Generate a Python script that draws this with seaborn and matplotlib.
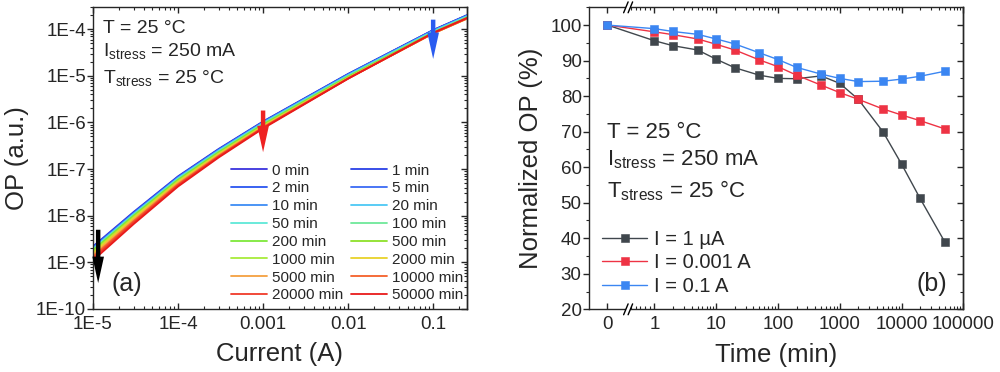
import numpy as np
import pandas as pd
import matplotlib
matplotlib.use("Agg")
import matplotlib.pyplot as plt
import seaborn as sns
from matplotlib.ticker import FixedLocator, FixedFormatter, NullFormatter, MultipleLocator
from matplotlib.patches import Rectangle

# ---- panel (a): OP vs current after each stress time ----
currents = [1e-5, 3e-5, 1e-4, 3e-4, 1e-3, 1e-2, 1e-1, 2.5e-1]
stress_times = [0, 1, 2, 5, 10, 20, 50, 100, 200, 500, 1000, 2000, 5000, 10000, 20000, 50000]
op_curves = [
    [2.20e-9, 1.20e-8, 7.00e-8, 2.70e-7, 1.05e-6, 1.10e-5, 9.60e-5, 2.00e-4],  # 0 min
    [2.11e-9, 1.16e-8, 6.79e-8, 2.63e-7, 1.03e-6, 1.08e-5, 9.50e-5, 1.98e-4],  # 1 min
    [2.09e-9, 1.15e-8, 6.73e-8, 2.61e-7, 1.02e-6, 1.08e-5, 9.43e-5, 1.96e-4],  # 2 min
    [2.05e-9, 1.12e-8, 6.62e-8, 2.57e-7, 1.01e-6, 1.06e-5, 9.35e-5, 1.95e-4],  # 5 min
    [2.00e-9, 1.10e-8, 6.50e-8, 2.53e-7, 9.93e-7, 1.05e-5, 9.23e-5, 1.92e-4],  # 10 min
    [1.96e-9, 1.08e-8, 6.37e-8, 2.48e-7, 9.77e-7, 1.03e-5, 9.09e-5, 1.89e-4],  # 20 min
    [1.89e-9, 1.04e-8, 6.17e-8, 2.41e-7, 9.47e-7, 1.00e-5, 8.85e-5, 1.84e-4],  # 50 min
    [1.85e-9, 1.02e-8, 6.03e-8, 2.35e-7, 9.27e-7, 9.82e-6, 8.67e-5, 1.81e-4],  # 100 min
    [1.80e-9, 9.95e-9, 5.88e-8, 2.29e-7, 9.02e-7, 9.57e-6, 8.46e-5, 1.76e-4],  # 200 min
    [1.74e-9, 9.60e-9, 5.68e-8, 2.21e-7, 8.73e-7, 9.32e-6, 8.28e-5, 1.72e-4],  # 500 min
    [1.67e-9, 9.26e-9, 5.50e-8, 2.15e-7, 8.51e-7, 9.13e-6, 8.16e-5, 1.70e-4],  # 1000 min
    [1.58e-9, 8.84e-9, 5.29e-8, 2.09e-7, 8.31e-7, 8.98e-6, 8.07e-5, 1.68e-4],  # 2000 min
    [1.43e-9, 8.12e-9, 4.95e-8, 1.98e-7, 8.02e-7, 8.83e-6, 8.08e-5, 1.68e-4],  # 5000 min
    [1.32e-9, 7.62e-9, 4.72e-8, 1.91e-7, 7.84e-7, 8.78e-6, 8.14e-5, 1.70e-4],  # 10000 min
    [1.21e-9, 7.12e-9, 4.49e-8, 1.85e-7, 7.68e-7, 8.73e-6, 8.22e-5, 1.71e-4],  # 20000 min
    [1.10e-9, 6.60e-9, 4.23e-8, 1.77e-7, 7.43e-7, 8.68e-6, 8.35e-5, 1.74e-4],  # 50000 min
]
curve_colors = ["#3a33dd", "#2a40e6", "#2a55f0", "#3a6af5", "#3d8cf5", "#4cc8f5",
                "#5ee8d8", "#6ee89a", "#7ee83a", "#8de02a", "#a8ec3a", "#e8d22a",
                "#f5a040", "#f5602a", "#f03a2a", "#e81a1a"]

# ---- panel (b): normalized OP vs stress time ----
time_min = [0, 1, 2, 5, 10, 20, 50, 100, 200, 500, 1000, 2000, 5000, 10000, 20000, 50000]
norm_1uA = [100, 95.6, 94.2, 93.0, 90.4, 88.0, 85.9, 85.0, 84.9, 85.7, 83.6, 79.1, 70.0, 60.9, 51.2, 39.0]
norm_1mA = [100, 98.1, 97.3, 96.1, 94.6, 93.0, 90.2, 88.3, 85.9, 83.1, 81.0, 79.1, 76.4, 74.7, 73.1, 70.8]
norm_100mA = [100, 99.0, 98.2, 97.4, 96.1, 94.7, 92.2, 90.3, 88.1, 86.2, 85.0, 84.1, 84.2, 84.8, 85.6, 87.0]
series_labels = ["I = 1 µA", "I = 0.001 A", "I = 0.1 A"]
series_colors = ["#40474d", "#ee3344", "#3b86f2"]

sns.set_style("ticks")
plt.rcParams["font.family"] = ["Liberation Sans", "DejaVu Sans"]
plt.rcParams["mathtext.fontset"] = "custom"
plt.rcParams["mathtext.rm"] = "Liberation Sans"
plt.rcParams["mathtext.it"] = "Liberation Sans:italic"
plt.rcParams["axes.linewidth"] = 1.0

TICK_FS = 13.5
LABEL_FS = 18.5

fig = plt.figure(figsize=(10, 3.72), dpi=100)
ax_a = fig.add_axes([0.093, 0.1694, 0.374, 0.812])
ax_b = fig.add_axes([0.5893, 0.1685, 0.374, 0.8118])

# ================= panel (a) =================
time_labels = [f"{t} min" for t in stress_times]
rows = []
for lab, vals in zip(time_labels, op_curves):
    for c, v in zip(currents, vals):
        rows.append({"Current": c, "OP": v, "Time": lab})
df_a = pd.DataFrame(rows)

sns.lineplot(data=df_a, x="Current", y="OP", hue="Time", hue_order=time_labels,
             palette=curve_colors, linewidth=1.3, errorbar=None, legend=False, ax=ax_a)
ax_a.set_xscale("log")
ax_a.set_yscale("log")
ax_a.set_xlim(1e-5, 0.25)
ax_a.set_ylim(1e-10, 3e-4)

ax_a.xaxis.set_major_locator(FixedLocator([1e-5, 1e-4, 1e-3, 1e-2, 1e-1]))
ax_a.xaxis.set_major_formatter(FixedFormatter(["1E-5", "1E-4", "0.001", "0.01", "0.1"]))
ax_a.xaxis.set_minor_formatter(NullFormatter())
ax_a.yaxis.set_major_locator(FixedLocator([1e-10, 1e-9, 1e-8, 1e-7, 1e-6, 1e-5, 1e-4]))
ax_a.yaxis.set_major_formatter(FixedFormatter(["1E-10", "1E-9", "1E-8", "1E-7", "1E-6", "1E-5", "1E-4"]))
ax_a.yaxis.set_minor_formatter(NullFormatter())
ax_a.tick_params(axis="x", which="both", direction="in", top=True, labelsize=TICK_FS, pad=5)
ax_a.tick_params(axis="y", which="both", direction="out", right=False, labelsize=TICK_FS, pad=0.5)
ax_a.tick_params(which="major", length=4.5, width=1)
ax_a.tick_params(which="minor", length=2.5, width=0.8)
sec_a = ax_a.secondary_yaxis("right")
sec_a.tick_params(which="both", direction="in", labelright=False)
sec_a.tick_params(which="major", length=4.5, width=1)
sec_a.tick_params(which="minor", length=2.5, width=0.8)
sec_a.yaxis.set_minor_formatter(NullFormatter())

ax_a.set_xlabel("Current (A)", fontsize=LABEL_FS)
ax_a.set_ylabel("OP (a.u.)", fontsize=LABEL_FS)
ax_a.xaxis.set_label_coords(0.5, -0.11)
ax_a.yaxis.set_label_coords(-0.17, 0.5)

handles = ax_a.lines[:len(time_labels)]
order = list(range(0, 16, 2)) + list(range(1, 16, 2))
ax_a.legend([handles[i] for i in order], [time_labels[i] for i in order],
            ncol=2, loc="lower right", bbox_to_anchor=(0.99, 0.022), frameon=False,
            fontsize=11, borderpad=0, borderaxespad=0, handlelength=2.4,
            handletextpad=0.3, columnspacing=0.5, labelspacing=0.25)

ax_a.text(0.027, 0.913, "T = 25 °C", transform=ax_a.transAxes, fontsize=14, va="baseline")
ax_a.text(0.027, 0.838, r"I$_{\mathrm{stress}}$ = 250 mA", transform=ax_a.transAxes, fontsize=14, va="baseline")
ax_a.text(0.027, 0.747, r"T$_{\mathrm{stress}}$ = 25 °C", transform=ax_a.transAxes, fontsize=14, va="baseline")
ax_a.text(0.091, 0.083, "(a)", transform=ax_a.transAxes, fontsize=18, ha="center", va="center")

arrow_style = "simple,head_length=0.95,head_width=0.42,tail_width=0.16"
for (xa, y_from, y_to, col) in [(1.15e-5, 5.0e-9, 3.6e-10, "black"),
                                (1e-3, 1.8e-6, 2.3e-7, "#ee2222"),
                                (0.1, 1.6e-4, 2.3e-5, "#2a5cf0")]:
    ax_a.annotate("", xy=(xa, y_to), xytext=(xa, y_from),
                  arrowprops=dict(arrowstyle=arrow_style, color=col, mutation_scale=20,
                                  lw=0, shrinkA=0, shrinkB=0))

# ================= panel (b) =================
df_b = pd.DataFrame({
    "Time": time_min * 3,
    "OP": norm_1uA + norm_1mA + norm_100mA,
    "Series": [series_labels[0]] * len(time_min) + [series_labels[1]] * len(time_min)
              + [series_labels[2]] * len(time_min),
})
sns.lineplot(data=df_b, x="Time", y="OP", hue="Series", hue_order=series_labels,
             palette=series_colors, marker="s", markersize=5.5, markeredgewidth=0.4,
             linewidth=1.0, errorbar=None, legend=False, ax=ax_b)
for ln, col in zip(ax_b.lines, series_colors):
    ln.set_markeredgecolor(col)

# broken axis: 0 then log from 1 (symlog gives linear 0..1 region)
ax_b.set_xscale("symlog", linthresh=1, linscale=0.683)
ax_b.set_xlim(-0.388, 1e5)
ax_b.set_ylim(20, 105)
ax_b.xaxis.set_major_locator(FixedLocator([0, 1, 10, 100, 1000, 10000, 100000]))
ax_b.xaxis.set_major_formatter(FixedFormatter(["0", "1", "10", "100", "1000", "10000", "100000"]))
minor_x = [0.5, 0.6, 0.7, 0.8, 0.9] + [k * 10 ** d for d in range(0, 5) for k in range(2, 10)]
ax_b.xaxis.set_minor_locator(FixedLocator(minor_x))
ax_b.xaxis.set_minor_formatter(NullFormatter())
ax_b.yaxis.set_major_locator(MultipleLocator(10))
ax_b.yaxis.set_minor_locator(MultipleLocator(5))
ax_b.tick_params(axis="x", which="both", direction="in", top=True, labelsize=TICK_FS, pad=5)
ax_b.tick_params(axis="y", which="both", direction="out", right=False, labelsize=TICK_FS, pad=1)
ax_b.tick_params(which="major", length=4.5, width=1)
ax_b.tick_params(which="minor", length=2.5, width=0.8)
sec_b = ax_b.secondary_yaxis("right")
sec_b.yaxis.set_major_locator(MultipleLocator(10))
sec_b.yaxis.set_minor_locator(MultipleLocator(5))
sec_b.tick_params(which="both", direction="in", labelright=False)
sec_b.tick_params(which="major", length=4.5, width=1)
sec_b.tick_params(which="minor", length=2.5, width=0.8)

ax_b.set_xlabel("Time (min)", fontsize=LABEL_FS)
ax_b.set_ylabel("Normalized OP (%)", fontsize=LABEL_FS)
ax_b.xaxis.set_label_coords(0.5, -0.11)
ax_b.yaxis.set_label_coords(-0.125, 0.5)

ax_b.legend(ax_b.lines[:3], series_labels, loc="lower left", bbox_to_anchor=(0.035, 0.045),
            frameon=False, fontsize=14.5, borderpad=0, borderaxespad=0, handlelength=2.2,
            handletextpad=0.35, labelspacing=0.22)

ax_b.text(0.047, 0.566, "T = 25 °C", transform=ax_b.transAxes, fontsize=16, va="baseline")
ax_b.text(0.047, 0.475, r"I$_{\mathrm{stress}}$ = 250 mA", transform=ax_b.transAxes, fontsize=16, va="baseline")
ax_b.text(0.047, 0.371, r"T$_{\mathrm{stress}}$ = 25 °C", transform=ax_b.transAxes, fontsize=16, va="baseline")
ax_b.text(0.916, 0.083, "(b)", transform=ax_b.transAxes, fontsize=18, ha="center", va="center")

# axis break marks
xb = ax_b.transAxes.inverted().transform(ax_b.transData.transform((0.44, 50)))[0]
for yb in (0.0, 1.0):
    ax_b.add_patch(Rectangle((xb - 0.006, yb - 0.01), 0.012, 0.02, transform=ax_b.transAxes,
                             facecolor="white", edgecolor="none", clip_on=False, zorder=5))
    for dx in (-0.006, 0.006):
        ax_b.plot([xb + dx - 0.006, xb + dx + 0.006], [yb - 0.018, yb + 0.018],
                  transform=ax_b.transAxes, color="black", lw=1.0, clip_on=False, zorder=6)

fig.savefig("out.png", dpi=100)
